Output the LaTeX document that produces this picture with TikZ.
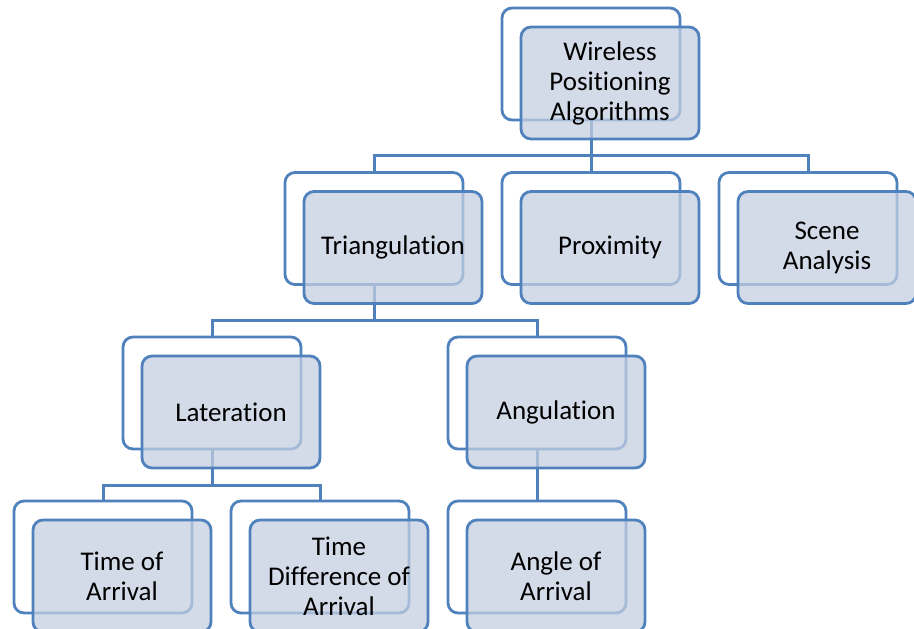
\documentclass[tikz,border=0pt]{standalone}
\usepackage{fontspec}
\setmainfont{Carlito}[Ligatures=NoCommon]
\definecolor{boxline}{RGB}{79,129,189}
\definecolor{boxfill}{RGB}{196,206,225}
\tikzset{
  backbox/.style={draw=boxline, line width=2.8pt, fill=white, rounded corners=10pt,
    minimum width=178pt, minimum height=112pt, inner sep=0pt},
  frontbox/.style={draw=boxline, line width=2.8pt, fill=boxfill, fill opacity=0.74,
    text opacity=1, rounded corners=10pt, minimum width=178pt, minimum height=112pt,
    inner sep=0pt, align=center, font=\fontsize{27}{30}\selectfont, xshift=19pt, yshift=-19pt},
  conn/.style={draw=boxline, line width=3pt}
}
\begin{document}
\begin{tikzpicture}[x=1pt,y=-1pt]
\useasboundingbox (0,0) rectangle (914,629);
% back boxes
\node[backbox] (rootb) at (591,64) {};
\node[backbox] (trib) at (374,228.5) {};
\node[backbox] (proxb) at (591,228.5) {};
\node[backbox] (sceneb) at (808,228.5) {};
\node[backbox] (latb) at (212,393) {};
\node[backbox] (angb) at (537,393) {};
\node[backbox] (toab) at (103,557) {};
\node[backbox] (tdoab) at (320,557) {};
\node[backbox] (aoab) at (537,557) {};
% bus lines
\coordinate (bus1) at (0,155);
\coordinate (bus2) at (0,320);
\coordinate (bus3) at (0,485);
% connectors
\draw[conn] (rootb.south) |- (bus1 -| trib.north) -- (trib.north);
\draw[conn] (rootb.south) -- (proxb.north);
\draw[conn] (rootb.south) |- (bus1 -| sceneb.north) -- (sceneb.north);
\draw[conn] (trib.south) |- (bus2 -| latb.north) -- (latb.north);
\draw[conn] (trib.south) |- (bus2 -| angb.north) -- (angb.north);
\draw[conn] (latb.south) |- (bus3 -| toab.north) -- (toab.north);
\draw[conn] (latb.south) |- (bus3 -| tdoab.north) -- (tdoab.north);
\draw[conn] (angb.south) -- (aoab.north);
% front boxes
\node[frontbox] (root) at (rootb.center) {Wireless\\Positioning\\Algorithms};
\node[frontbox] (tri) at (trib.center) {Triangulation};
\node[frontbox] (prox) at (proxb.center) {Proximity};
\node[frontbox] (scene) at (sceneb.center) {Scene\\Analysis};
\node[frontbox] (lat) at (latb.center) {Lateration};
\node[frontbox] (ang) at (angb.center) {Angulation};
\node[frontbox] (toa) at (toab.center) {Time of\\Arrival};
\node[frontbox] (tdoa) at (tdoab.center) {Time\\Difference of\\Arrival};
\node[frontbox] (aoa) at (aoab.center) {Angle of\\Arrival};
\end{tikzpicture}
\end{document}
